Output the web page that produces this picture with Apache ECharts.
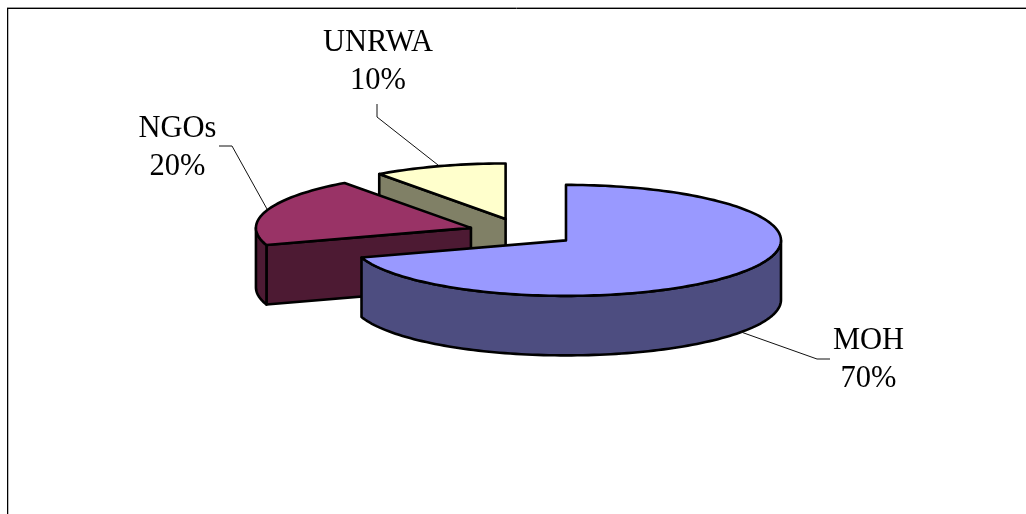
<!DOCTYPE html>
<html>
<head>
<meta charset="utf-8">
<style>html,body{margin:0;padding:0;background:#fff}#c{width:1026px;height:514px}</style>
<script src="https://cdn.jsdelivr.net/npm/echarts@6/dist/echarts.min.js"></script>
</head>
<body>
<div id="c"></div>
<script>
// Data
const categories = ['MOH', 'NGOs', 'UNRWA'];
const shares = [70, 20, 10];

// Styles
const topColors = ['#9999FF', '#993366', '#FFFFCC'];
const sideColors = ['#4D4D80', '#4D1A33', '#808066'];

// Layout of the 3D pie
const pie = { cx: 522.3, cy: 232.2, rx: 215, ry: 55.5, depth: 59.5, explode: 54 };
const labelSpots = {
  MOH:   { x: 868.5, y: 360, leader: [[830, 359], [817, 359], [741, 332]] },
  NGOs:  { x: 177.5, y: 148, leader: [[219, 146], [232, 146], [267, 209]] },
  UNRWA: { x: 378, y: 62,  leader: [[377, 104], [377, 117], [438, 165]] }
};

const total = shares.reduce((a, b) => a + b, 0);
const rad = d => d * Math.PI / 180;
let acc = 0;
const spans = shares.map(v => { const s = acc; acc += v / total * 360; return [s, acc]; });

function arc(ox, oy, a, b, dy) {
  const pts = [];
  const n = Math.max(2, Math.ceil(Math.abs(b - a) / 1.5));
  for (let i = 0; i <= n; i++) {
    const t = rad(a + (b - a) * i / n);
    pts.push([ox + pie.rx * Math.sin(t), oy - pie.ry * Math.cos(t) + dy]);
  }
  return pts;
}

const stroke = { stroke: '#000', lineWidth: 2.6, lineJoin: 'round' };

function renderSlice(params, api) {
  const i = api.value(0);
  const [a, b] = spans[i];
  const mid = rad((a + b) / 2);
  const ox = pie.cx + pie.explode * Math.sin(mid);
  const oy = pie.cy - pie.explode * Math.cos(mid) * pie.ry / pie.rx;
  const d = pie.depth;
  const children = [];
  const poly = (points, fill) => children.push({
    type: 'polygon', shape: { points }, style: Object.assign({ fill }, stroke)
  });

  // cut faces that look towards the viewer
  [[a, a > 180 && a < 360], [b, b > 0 && b < 180]].forEach(([ang, show]) => {
    if (!show) return;
    const t = rad(ang);
    const px = ox + pie.rx * Math.sin(t), py = oy - pie.ry * Math.cos(t);
    poly([[ox, oy], [px, py], [px, py + d], [ox, oy + d]], sideColors[i]);
  });
  // outer wall, front half only
  const wa = Math.max(a, 90), wb = Math.min(b, 270);
  if (wb > wa) {
    poly(arc(ox, oy, wa, wb, 0).concat(arc(ox, oy, wb, wa, d)), sideColors[i]);
  }
  // top face
  poly([[ox, oy]].concat(arc(ox, oy, a, b, 0)), topColors[i]);

  // leader and label
  const spot = labelSpots[categories[i]];
  children.push({
    type: 'polyline', shape: { points: spot.leader },
    style: { stroke: '#111', lineWidth: 1, fill: null }
  });
  children.push({
    type: 'text',
    style: {
      x: spot.x, y: spot.y,
      text: categories[i] + '\n' + Math.round(shares[i] / total * 100) + '%',
      fill: '#000', font: '30.5px "Liberation Serif"', lineHeight: 38.5,
      align: 'center', verticalAlign: 'middle'
    }
  });
  return { type: 'group', children };
}

const chart = echarts.init(document.getElementById('c'), null, { renderer: 'canvas' });
chart.setOption({
  animation: false,
  backgroundColor: '#fff',
  graphic: [
    { type: 'line', shape: { x1: 7, y1: 7.5, x2: 1026, y2: 7.5 }, style: { stroke: '#999', lineWidth: 1 }, silent: true },
    { type: 'line', shape: { x1: 7, y1: 8.5, x2: 1026, y2: 8.5 }, style: { stroke: '#000', lineWidth: 1 }, silent: true },
    { type: 'line', shape: { x1: 7.5, y1: 8, x2: 7.5, y2: 514 }, style: { stroke: '#000', lineWidth: 1 }, silent: true },
    { type: 'line', shape: { x1: 8.5, y1: 9, x2: 8.5, y2: 514 }, style: { stroke: '#bbb', lineWidth: 1 }, silent: true }
  ],
  series: [{
    type: 'custom',
    coordinateSystem: 'none',
    silent: true,
    renderItem: renderSlice,
    // painted back to front
    data: categories.map((c, i) => [i]).reverse()
  }]
});
</script>
</body>
</html>
